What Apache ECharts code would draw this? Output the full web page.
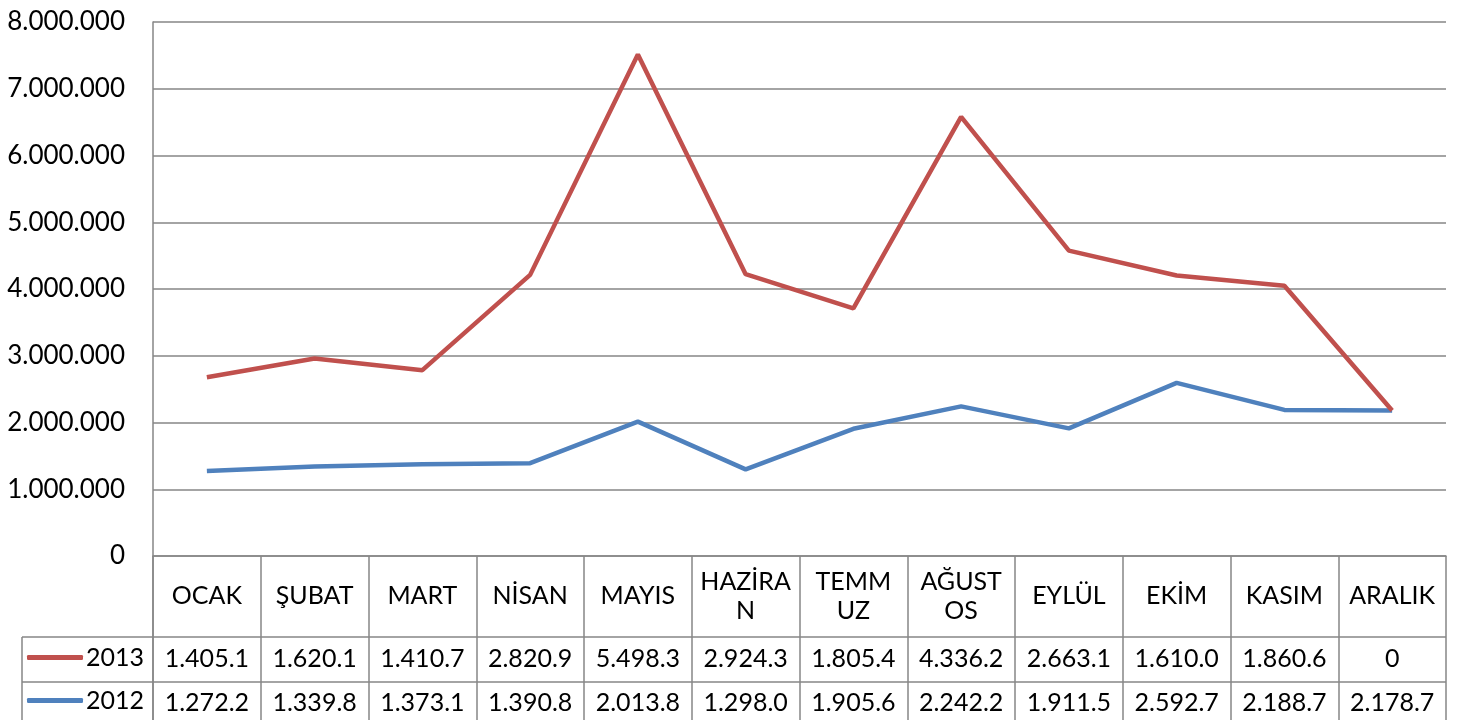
<!DOCTYPE html>
<html>
<head>
<meta charset="utf-8">
<script src="https://cdn.jsdelivr.net/npm/echarts@6/dist/echarts.min.js"></script>
<style>
  html, body { margin: 0; padding: 0; background: #fff; }
  #chart { width: 1464px; height: 720px; }
</style>
</head>
<body>
<div id="chart"></div>
<script>
// month labels as wrapped in the data table cells
const months = ['OCAK', 'ŞUBAT', 'MART', 'NİSAN', 'MAYIS', 'HAZİRA\nN', 'TEMM\nUZ', 'AĞUST\nOS', 'EYLÜL', 'EKİM', 'KASIM', 'ARALIK']
const v2013 = [1405100, 1620100, 1410700, 2820900, 5498300, 2924300, 1805400, 4336200, 2663100, 1610000, 1860600, 0]
const v2012 = [1272200, 1339800, 1373100, 1390800, 2013800, 1298000, 1905600, 2242200, 1911500, 2592700, 2188700, 2178700]
const seriesNames = ['2013', '2012']

const RED = '#C0504D'
const BLUE = '#4F81BD'
const GRID = '#868686'
const FONT = 'Lato'

const dots = n => String(n).replace(/\B(?=(\d{3})+(?!\d))/g, '.')
// table cells are too narrow, so values show cut to 7 characters
const cell = n => dots(n).slice(0, 7)

const chart = echarts.init(document.getElementById('chart'))

const rowAxis = (values, margin) => ({
  type: 'category',
  data: values.map(cell),
  position: 'bottom',
  axisLine: { show: false },
  axisTick: { show: false },
  axisLabel: {
    interval: 0, margin: margin, verticalAlign: 'middle',
    color: '#000', fontFamily: FONT, fontSize: 25
  }
})

const legendRow = (name, top) => ({
  data: [name],
  left: 27,
  top: top,
  padding: 0,
  icon: 'roundRect',
  itemWidth: 56,
  itemHeight: 5,
  itemGap: 0,
  selectedMode: false,
  textStyle: { color: '#000', fontFamily: FONT, fontSize: 25, padding: [0, 0, 0, -2] }
})

const line = (x1, y1, x2, y2) => ({
  type: 'line',
  shape: { x1, y1, x2, y2 },
  style: { stroke: GRID, lineWidth: 1.5 }
})

chart.setOption({
  animation: false,
  backgroundColor: '#fff',
  grid: { left: 153, right: 18, top: 22, bottom: 164 },
  legend: [legendRow(seriesNames[0], 645), legendRow(seriesNames[1], 688)],
  xAxis: [
    {
      type: 'category',
      data: months,
      axisLine: { lineStyle: { color: GRID, width: 1.5 } },
      axisTick: { show: true, length: 180, lineStyle: { color: GRID, width: 1.5 } },
      axisLabel: {
        interval: 0, margin: 40, verticalAlign: 'middle', lineHeight: 29,
        color: '#000', fontFamily: FONT, fontSize: 25
      }
    },
    rowAxis(v2013, 103),
    rowAxis(v2012, 147)
  ],
  yAxis: {
    type: 'value',
    min: 0,
    max: 8000000,
    interval: 1000000,
    axisLine: { show: true, lineStyle: { color: GRID, width: 1.5 } },
    axisTick: { show: false },
    splitLine: { lineStyle: { color: GRID, width: 1.5 } },
    axisLabel: {
      margin: 28, color: '#000', fontFamily: FONT, fontSize: 26,
      formatter: v => dots(v)
    }
  },
  graphic: [
    line(22, 637, 1446, 637),
    line(22, 682, 1446, 682),
    line(22, 637, 22, 720),
    line(153, 556, 153, 720)
  ],
  series: [
    {
      name: seriesNames[1],
      type: 'line',
      stack: 'total',
      data: v2012,
      symbol: 'none',
      lineStyle: { color: BLUE, width: 4.5 },
      itemStyle: { color: BLUE }
    },
    {
      name: seriesNames[0],
      type: 'line',
      stack: 'total',
      data: v2013,
      symbol: 'none',
      lineStyle: { color: RED, width: 4.5 },
      itemStyle: { color: RED }
    }
  ]
})
</script>
</body>
</html>
